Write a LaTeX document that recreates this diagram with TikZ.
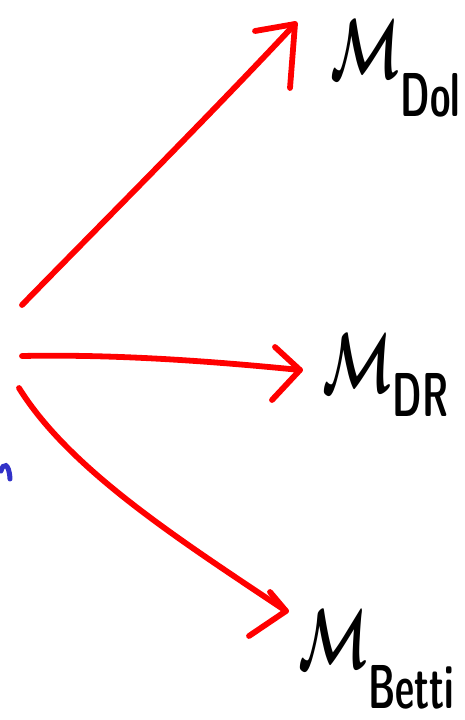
\documentclass[tikz,border=0pt]{standalone}
\usepackage{amsmath}
\usepackage{fontspec}
\definecolor{penred}{RGB}{255,0,0}
\definecolor{penblue}{RGB}{50,50,200}
\newcommand{\hwlabel}[2]{\scalebox{5.1}[8.5]{\boldmath$\mathcal{M}$}\raisebox{-#1}{\scalebox{0.6}[1]{\fontsize{62}{62}\selectfont\sffamily\bfseries #2}}}
\begin{document}
\begin{tikzpicture}[x=1pt,y=-1pt]
\tikzset{redline/.style={draw=penred,line width=5.8pt,line cap=round,line join=round},
  lbl/.style={inner sep=0pt,text=black,anchor=base west}}
\useasboundingbox (0,0) rectangle (465,720);
\coordinate (s1) at (22,305);
\coordinate (t1) at (295,24);
\coordinate (s2) at (22,356);
\coordinate (t2) at (300,370);
\coordinate (s3) at (19,388);
\coordinate (t3) at (286,611);
\draw[redline] (s1) .. controls (110,215) and (210,115) .. (t1);
\draw[redline] (s2) .. controls (120,354) and (220,362) .. (t2);
\draw[redline] (s3) .. controls (70,470) and (180,540) .. (t3);
\coordinate (h1a) at (255,31);
\coordinate (h1b) at (290,88);
\draw[redline] (h1a) -- (t1) -- (h1b);
\coordinate (h2a) at (275,347);
\coordinate (h2b) at (272,400);
\draw[redline] (h2a) -- (t2) -- (h2b);
\coordinate (h3a) at (270,592);
\coordinate (h3b) at (249,636);
\draw[redline] (h3a) -- (t3) -- (h3b);
\coordinate (b1) at (1,471);
\coordinate (b2) at (10,479);
\draw[draw=penblue,line width=5pt,line cap=round] (b1) .. controls (3,463) and (9,462) .. (b2);
\node[lbl] (dol) at (330,78) {\hwlabel{38pt}{Dol}};
\node[lbl] (dr) at (322,392) {\hwlabel{24pt}{DR}};
\node[lbl] (betti) at (298,668) {\hwlabel{40pt}{Betti}};
\end{tikzpicture}
\end{document}
